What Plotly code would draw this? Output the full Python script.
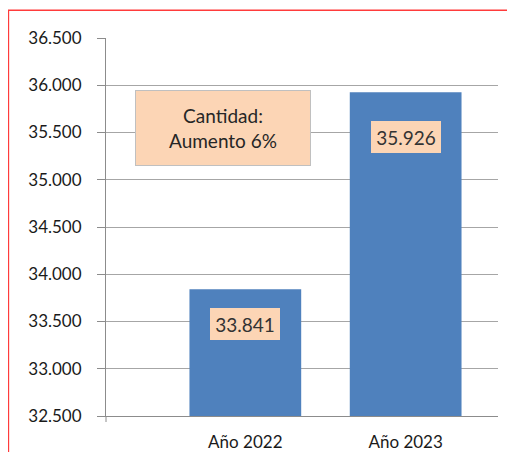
import plotly.graph_objects as go

categories = ["Año 2022", "Año 2023"]
values = [33841, 35926]
value_labels = ["33.841", "35.926"]
label_offsets = [-35, -45]
y_ticks = [32500, 33000, 33500, 34000, 34500, 35000, 35500, 36000, 36500]
y_tick_labels = ["32.500", "33.000", "33.500", "34.000", "34.500", "35.000", "35.500", "36.000", "36.500"]
note_text = "Cantidad:<br>Aumento 6%"

FONT = "Lato"
W, H = 507, 444          # page body has an 8px margin
L, T = 98, 29.7          # plot area left/top inside the figure
PW, PH = 391.7, 378.0    # plot area size


def px(x):
    return (x - 8 - L) / PW


def py(y):
    return (T + PH - (y - 8)) / PH


fig = go.Figure()
fig.add_trace(go.Bar(x=categories, y=values, width=0.697,
                     marker=dict(color="#4F81BD", line=dict(width=0)),
                     hoverinfo="skip"))

for c, v, t, off in zip(categories, values, value_labels, label_offsets):
    fig.add_annotation(x=c, y=v, text=t, showarrow=False, yshift=off,
                       xanchor="center", yanchor="middle",
                       font=dict(family=FONT, size=19, color="#333333"),
                       bgcolor="#FCD5B5", borderpad=0, borderwidth=0,
                       width=70, height=32)

fig.add_annotation(xref="paper", yref="paper", x=px(222.5), y=py(128),
                   xanchor="center", yanchor="middle",
                   text=note_text, showarrow=False, align="center",
                   font=dict(family=FONT, size=19, color="#262626"),
                   bgcolor="#FCD5B5", bordercolor="#C0C0C0", borderwidth=1,
                   width=172, height=72)

# outer red frame
fig.add_shape(type="rect", xref="paper", yref="paper",
              x0=px(8.5), x1=px(540),
              y0=py(480), y1=py(10),
              line=dict(color="#FF3B3B", width=1.5), fillcolor="rgba(0,0,0,0)", layer="above")

# small extension of the value axis below the category axis
fig.add_shape(type="line", xref="paper", yref="paper",
              x0=0, x1=0, y0=0, y1=-6 / PH,
              line=dict(color="#8C8C8C", width=1))

fig.update_layout(
    width=W, height=H,
    margin=dict(l=L, r=W - L - PW, t=T, b=H - T - PH, autoexpand=False),
    paper_bgcolor="white", plot_bgcolor="white",
    showlegend=False, bargap=0.3,
    xaxis=dict(type="category", range=[-0.869, 1.576], showgrid=False, automargin=False,
               showline=True, linecolor="#8C8C8C", linewidth=1, ticks="",
               tickfont=dict(family=FONT, size=17, color="#1a1a1a"),
               ticklabelstandoff=11),
    yaxis=dict(range=[32500, 36500], tickvals=y_ticks, ticktext=y_tick_labels, automargin=False,
               showgrid=True, gridcolor="#A6A6A6", gridwidth=1,
               showline=True, linecolor="#8C8C8C", linewidth=1,
               ticks="outside", ticklen=8, tickcolor="#8C8C8C",
               tickfont=dict(family=FONT, size=17, color="#1a1a1a"),
               ticklabelstandoff=12, zeroline=False),
)

fig.write_html("out.html")
